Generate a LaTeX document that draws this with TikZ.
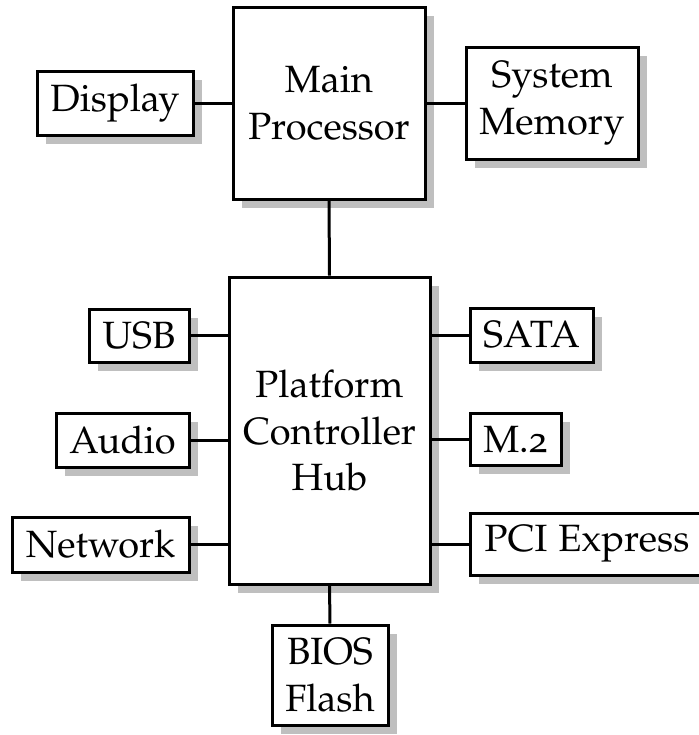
\documentclass[tikz,border=0pt]{standalone}
\usepackage[T1]{fontenc}
\usepackage[osf]{mathpazo}
\usetikzlibrary{shadows}
\begin{document}
\begin{tikzpicture}[x=0.3pt,y=-0.3pt,
  blk/.style={draw=black, line width=0.9pt, fill=white, inner sep=0pt,
    align=center, font=\fontsize{11.4}{14}\selectfont,
    general shadow={fill=black!25, shadow xshift=2.7pt, shadow yshift=-2.7pt}},
  conn/.style={line width=0.9pt}]
\useasboundingbox (0,0) rectangle (699,735);
\node[blk, minimum width=57.6pt, minimum height=57.6pt] (mp) at (329,103) {Main\\Processor};
\node[blk, minimum width=46.8pt, minimum height=19.2pt] (disp) at (115,103) {Display};
\node[blk, minimum width=51.6pt, minimum height=33.6pt] (mem) at (552,103) {System\\Memory};
\node[blk, minimum width=60.3pt, minimum height=92.1pt] (pch) at (329.5,430.5) {Platform\\Controller\\Hub};
\node[blk, minimum width=30pt, minimum height=15.9pt] (usb) at (139,335.5) {USB};
\node[blk, minimum width=39.9pt, minimum height=16.2pt] (audio) at (122.5,440) {Audio};
\node[blk, minimum width=53.1pt, minimum height=16.5pt] (net) at (100.5,544.5) {Network};
\node[blk, minimum width=36.9pt, minimum height=16.2pt] (sata) at (531.5,335) {SATA};
\node[blk, minimum width=27.3pt, minimum height=15.6pt] (m2) at (515.5,439) {M.2};
\node[blk, minimum width=70.2pt, minimum height=18.6pt] (pci) at (587,544) {PCI Express};
\node[blk, minimum width=34.8pt, minimum height=30pt] (bios) at (330,675) {BIOS\\Flash};
\draw[conn] (disp.east) -- (disp.east -| mp.west);
\draw[conn] (mem.west) -- (mem.west -| mp.east);
\draw[conn] (mp.south) -- (pch.north);
\draw[conn] (usb.east) -- (usb.east -| pch.west);
\draw[conn] (audio.east) -- (audio.east -| pch.west);
\draw[conn] (net.east) -- (net.east -| pch.west);
\draw[conn] (sata.west) -- (sata.west -| pch.east);
\draw[conn] (m2.west) -- (m2.west -| pch.east);
\draw[conn] (pci.west) -- (pci.west -| pch.east);
\draw[conn] (pch.south) -- (bios.north);
\end{tikzpicture}
\end{document}
